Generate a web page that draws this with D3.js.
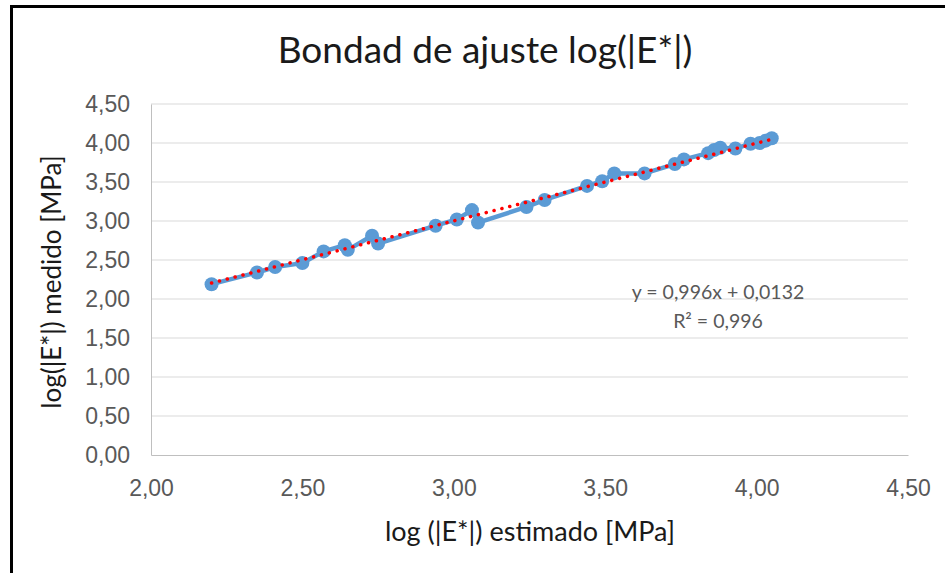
<!DOCTYPE html>
<html>
<head>
<meta charset="utf-8">
<script src="https://cdn.jsdelivr.net/npm/d3@7"></script>
<style>
  body { margin: 0; background: #fff; }
  svg { display: block; font-family: Lato, "Open Sans", sans-serif; }
  .grid line { stroke: #d9d9d9; stroke-width: 1; }
  .tick text { fill: #595959; font-size: 23px; }
</style>
</head>
<body>
<svg width="945" height="573"></svg>
<script>
// datos (estimado vs medido)
const estimado = [2.20, 2.35, 2.41, 2.50, 2.57, 2.64, 2.65, 2.73, 2.75, 2.94, 3.01, 3.06, 3.08, 3.24, 3.30,
                  3.44, 3.49, 3.53, 3.63, 3.73, 3.76, 3.84, 3.86, 3.88, 3.93, 3.98, 4.01, 4.03, 4.05];
const medido   = [2.19, 2.34, 2.41, 2.46, 2.61, 2.69, 2.63, 2.81, 2.71, 2.94, 3.02, 3.14, 2.98, 3.18, 3.27,
                  3.45, 3.51, 3.61, 3.61, 3.73, 3.79, 3.87, 3.91, 3.94, 3.93, 3.99, 4.00, 4.03, 4.06];
const xTicks = [2.0, 2.5, 3.0, 3.5, 4.0, 4.5];
const yTicks = [0, 0.5, 1.0, 1.5, 2.0, 2.5, 3.0, 3.5, 4.0, 4.5];
const pendiente = 0.996, intercepto = 0.0132;
const ecuacion = ["y = 0,996x + 0,0132", "R² = 0,996"];

const svg = d3.select("svg");
const loc = d3.formatLocale({ decimal: ",", thousands: ".", grouping: [3], currency: ["", ""] });
const fmt = loc.format(".2f");

const x = d3.scaleLinear().domain([2, 4.5]).range([151, 908]);
const y = d3.scaleLinear().domain([0, 4.5]).range([455, 104]);

// marco
svg.append("path")
    .attr("d", "M11.5,573 V6.5 H945")
    .attr("fill", "none")
    .attr("stroke", "#000")
    .attr("stroke-width", 3);

// lineas de cuadricula
svg.append("g")
    .attr("class", "grid")
    .selectAll("line")
    .data(yTicks.slice(1))
    .enter()
    .append("line")
    .attr("x1", x(2)).attr("x2", x(4.5))
    .attr("y1", d => y(d)).attr("y2", d => y(d));

// ejes
const xAxis = svg.append("g")
    .attr("transform", `translate(0,${y(0)})`)
    .call(d3.axisBottom(x).tickValues(xTicks).tickFormat(fmt).tickSize(0).tickPadding(25));
xAxis.select(".domain").attr("stroke", "#bfbfbf");

const yAxis = svg.append("g")
    .attr("transform", `translate(${x(2)},0)`)
    .call(d3.axisLeft(y).tickValues(yTicks).tickFormat(fmt).tickSize(0).tickPadding(21));
yAxis.select(".domain").attr("stroke", "#bfbfbf");

// serie
const pts = estimado.map((d, i) => [d, medido[i]]);
svg.append("path")
    .datum(pts)
    .attr("fill", "none")
    .attr("stroke", "#5b9bd5")
    .attr("stroke-width", 4.5)
    .attr("stroke-linejoin", "round")
    .attr("d", d3.line().x(d => x(d[0])).y(d => y(d[1])));

svg.selectAll("circle.pt")
    .data(pts)
    .enter()
    .append("circle")
    .attr("class", "pt")
    .attr("cx", d => x(d[0]))
    .attr("cy", d => y(d[1]))
    .attr("r", 7)
    .attr("fill", "#5b9bd5");

// linea de tendencia
const xmin = d3.min(estimado), xmax = d3.max(estimado);
svg.append("line")
    .attr("x1", x(xmin)).attr("y1", y(pendiente * xmin + intercepto))
    .attr("x2", x(xmax)).attr("y2", y(pendiente * xmax + intercepto))
    .attr("stroke", "#ff0000")
    .attr("stroke-width", 3.5)
    .attr("stroke-linecap", "round")
    .attr("stroke-dasharray", "0.1 8");

// textos
svg.append("text")
    .attr("x", 485).attr("y", 63)
    .attr("text-anchor", "middle")
    .attr("font-size", 37)
    .attr("fill", "#1a1a1a")
    .text("Bondad de ajuste log(|E*|)");

svg.append("text")
    .attr("x", 530).attr("y", 541)
    .attr("text-anchor", "middle")
    .attr("font-size", 27)
    .attr("fill", "#1a1a1a")
    .text("log (|E*|) estimado [MPa]");

svg.append("text")
    .attr("transform", "translate(61,282) rotate(-90)")
    .attr("text-anchor", "middle")
    .attr("font-size", 26)
    .attr("fill", "#1a1a1a")
    .text("log(|E*|) medido [MPa]");

svg.selectAll("text.eq")
    .data(ecuacion)
    .enter()
    .append("text")
    .attr("class", "eq")
    .attr("x", 718)
    .attr("y", (d, i) => 299 + i * 29)
    .attr("text-anchor", "middle")
    .attr("font-size", 19.5)
    .attr("fill", "#595959")
    .text(d => d);
</script>
</body>
</html>
